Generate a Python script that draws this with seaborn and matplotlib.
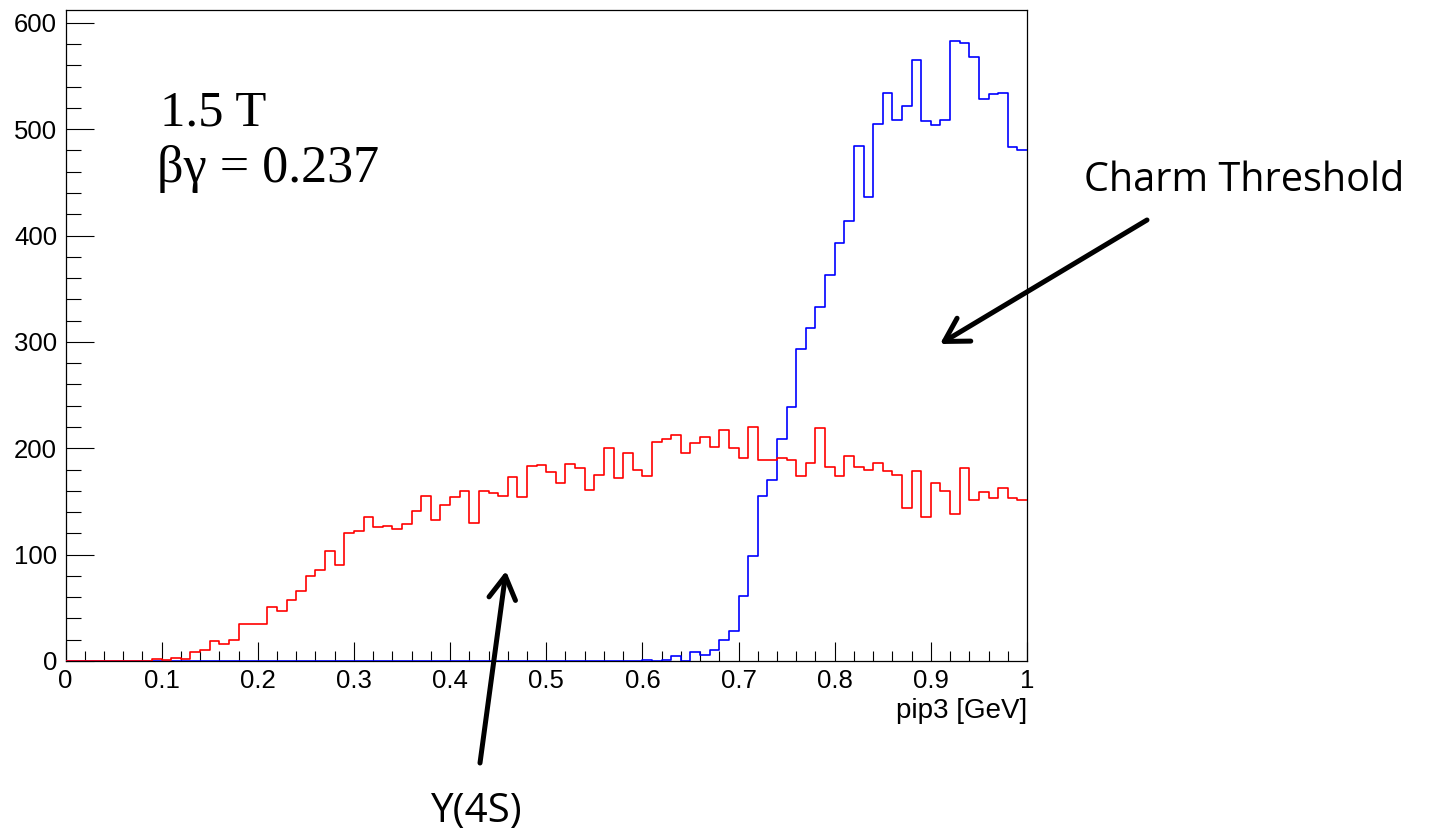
import numpy as np
import pandas as pd
import matplotlib
matplotlib.use("Agg")
import matplotlib.pyplot as plt
from matplotlib.ticker import MultipleLocator, FixedLocator, FixedFormatter
import seaborn as sns

# ---- data (bin contents, 100 bins from 0 to 1 GeV) ----
red_counts = [0, 0, 0, 0, 0, 0, 0, 0, 0, 2,
              1, 3, 2, 8, 10, 19, 16, 20, 35, 35,
              35, 51, 47, 57, 66, 80, 86, 103, 90, 120,
              122, 135, 126, 127, 124, 129, 141, 155, 133, 147,
              154, 160, 130, 160, 158, 155, 173, 154, 183, 184,
              178, 167, 185, 181, 161, 175, 200, 172, 196, 180,
              174, 206, 209, 212, 196, 205, 211, 201, 217, 200,
              191, 220, 189, 189, 191, 189, 174, 186, 219, 182,
              174, 193, 182, 180, 186, 179, 175, 144, 179, 135,
              167, 160, 138, 181, 151, 159, 153, 163, 153, 151]
blue_counts = [0] * 60 + [1, 0, 1, 5, 0, 8, 6, 10, 20, 28,
                          61, 99, 155, 170, 209, 239, 293, 313, 333, 363,
                          393, 414, 484, 436, 505, 534, 509, 522, 565, 508,
                          504, 509, 583, 581, 568, 528, 533, 534, 483, 480]
n_bins = 100
p_range = (0.0, 1.0)
bin_centers = (np.arange(n_bins) + 0.5) / n_bins

x_tick_values = [0, 0.1, 0.2, 0.3, 0.4, 0.5, 0.6, 0.7, 0.8, 0.9, 1.0]
x_tick_labels = ["0", "0.1", "0.2", "0.3", "0.4", "0.5", "0.6", "0.7", "0.8", "0.9", "1"]
y_tick_values = [0, 100, 200, 300, 400, 500, 600]
y_tick_labels = ["0", "100", "200", "300", "400", "500", "600"]
x_label = "pip3 [GeV]"
field_text = "1.5 T"
boost_text = "βγ = 0.237"
charm_text = "Charm Threshold"
y4s_text = "Y(4S)"

charm_df = pd.DataFrame({"p": bin_centers, "n": np.asarray(blue_counts, dtype=float)})
y4s_df = pd.DataFrame({"p": bin_centers, "n": np.asarray(red_counts, dtype=float)})

# ---- style ----
sns.set_style("white", {"text.color": "black", "axes.labelcolor": "black",
                        "xtick.color": "black", "ytick.color": "black",
                        "axes.edgecolor": "black"})
plt.rcParams["font.family"] = ["Liberation Sans", "DejaVu Sans"]

W, H = 1434, 834
fig = plt.figure(figsize=(W / 100, H / 100), dpi=100)
L, R, B, T = 65.5, 1027, 661, 10
ax = fig.add_axes([L / W, 1 - B / H, (R - L) / W, (B - T) / H])

sns.histplot(data=charm_df, x="p", weights="n", bins=n_bins, binrange=p_range,
             element="step", fill=False, color="#0000ff", linewidth=1.2, ax=ax, zorder=3)
sns.histplot(data=y4s_df, x="p", weights="n", bins=n_bins, binrange=p_range,
             element="step", fill=False, color="#ff0000", linewidth=1.2, ax=ax, zorder=4)

ax.set_xlim(0, 1)
ax.set_ylim(0, 612)
ax.set_ylabel("")
ax.set_xlabel(x_label, loc="right", fontsize=20, labelpad=3, color="black")

ax.xaxis.set_major_locator(FixedLocator(x_tick_values))
ax.xaxis.set_major_formatter(FixedFormatter(x_tick_labels))
ax.xaxis.set_minor_locator(MultipleLocator(0.02))
ax.yaxis.set_major_locator(FixedLocator(y_tick_values))
ax.yaxis.set_major_formatter(FixedFormatter(y_tick_labels))
ax.yaxis.set_minor_locator(MultipleLocator(20))

ax.tick_params(axis="x", which="major", direction="in", length=13.5, width=0.8,
               labelsize=18.5, pad=6, bottom=True, top=False, colors="black")
ax.tick_params(axis="x", which="minor", direction="in", length=7, width=0.8,
               bottom=True, top=False, colors="black")
ax.tick_params(axis="y", which="major", direction="in", length=20.5, width=0.8,
               labelsize=18.5, pad=6, left=True, right=False, colors="black")
ax.tick_params(axis="y", which="minor", direction="in", length=10.5, width=0.8,
               left=True, right=False, colors="black")
for s in ax.spines.values():
    s.set_visible(True)
    s.set_color("black")
    s.set_linewidth(0.9)

# ---- annotations ----
def fx(x):
    return x / W

def fy(y):
    return 1 - y / H

fig.text(fx(160), fy(125), field_text, family=["Liberation Serif", "DejaVu Serif"],
         fontsize=36.5, va="baseline", ha="left", color="black")
fig.text(fx(157), fy(182), boost_text, family=["Liberation Serif", "DejaVu Serif"],
         fontsize=37.5, va="baseline", ha="left", color="black")
fig.text(fx(1084), fy(191), charm_text, family=["Open Sans", "DejaVu Sans"],
         fontsize=28.5, va="baseline", ha="left", color="black")
fig.text(fx(431), fy(822), y4s_text, family=["Open Sans", "DejaVu Sans"],
         fontsize=29, va="baseline", ha="left", color="black")

arrow_style = "->,head_length=0.55,head_width=0.32"
ax.annotate("", xy=(940, H - 344), xycoords="figure pixels",
            xytext=(1147, H - 220), textcoords="figure pixels",
            arrowprops=dict(arrowstyle=arrow_style, lw=3.6, color="black",
                            shrinkA=0, shrinkB=0, mutation_scale=30),
            annotation_clip=False)
ax.annotate("", xy=(506, H - 571), xycoords="figure pixels",
            xytext=(480, H - 763), textcoords="figure pixels",
            arrowprops=dict(arrowstyle=arrow_style, lw=3.6, color="black",
                            shrinkA=0, shrinkB=0, mutation_scale=30),
            annotation_clip=False)

fig.savefig("out.png", dpi=100, facecolor="white")
